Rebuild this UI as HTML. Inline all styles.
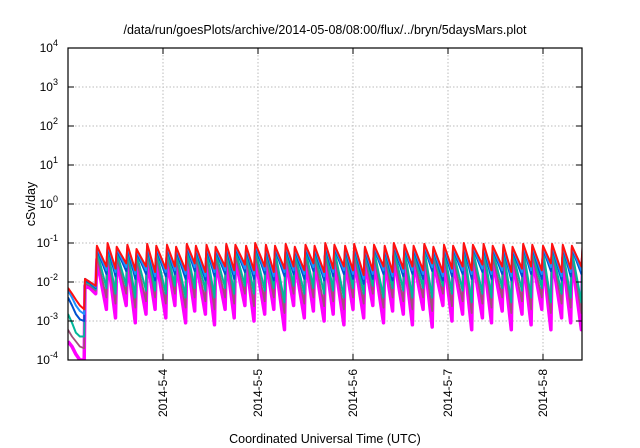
<!DOCTYPE html>
<html><head><meta charset="utf-8"><style>
body{margin:0;background:#fff;}
svg{display:block;font-family:"Liberation Sans",sans-serif;}
</style></head><body>
<svg id="chart" width="640" height="448" viewBox="0 0 640 448" xmlns="http://www.w3.org/2000/svg">
<text x="325" y="34" font-size="12.5" text-anchor="middle">/data/run/goesPlots/archive/2014-05-08/08:00/flux/../bryn/5daysMars.plot</text>
<text transform="translate(35,204) rotate(-90)" font-size="12.5" text-anchor="middle">cSv/day</text>
<text x="325" y="443" font-size="12.5" text-anchor="middle">Coordinated Universal Time (UTC)</text>
<g id="grid"></g>
<g id="series"></g>
<g id="axes"></g>
</svg>
<script>
const yDecades = [-4,-3,-2,-1,0,1,2,3,4];
const xTickDays = [4,5,6,7,8];
const xTickLabels = ["2014-5-4","2014-5-5","2014-5-6","2014-5-7","2014-5-8"];
const seriesNames = ["magenta","purple","teal","blue","dodger","red"];
const seriesColors = ["#ff00ff","#a0507a","#00b89a","#0050d0","#1e90ff","#ff1010"];
const seriesWidths = [3.5,1.8,2,2,2,2];
const peakScale = [0.45,0.55,0.75,0.85,0.92,1.0];
const preHours = [0,1,2,3,4.1,4.3,5.5,7.0];
const preValues = [
 [0.0003,0.00022,0.00014,0.0001,0.0001,0.008,0.007,0.005],
 [0.0006,0.0004,0.0003,0.00022,0.0002,0.009,0.008,0.006],
 [0.0015,0.0009,0.0005,0.0004,0.0004,0.010,0.009,0.0065],
 [0.004,0.0025,0.0015,0.0011,0.001,0.011,0.0095,0.007],
 [0.006,0.004,0.0025,0.0018,0.0015,0.012,0.010,0.0075],
 [0.007,0.005,0.0035,0.0025,0.002,0.012,0.010,0.008]
];
const peakHours = [7.3,10.0,12.3,15.0,17.3,20.0,22.3,25.0,27.3,30.0,32.3,35.0,37.3,40.0,42.3,45.0,47.3,50.0,52.3,55.0,57.3,60.0,62.3,65.0,67.3,70.0,72.3,75.0,77.3,80.0,82.3,85.0,87.3,90.0,92.3,95.0,97.3,100.0,102.3,105.0,107.3,110.0,112.3,115.0,117.3,120.0,122.3,125.0,127.3,130.0];
const peakValues = [0.085,0.1,0.08,0.09,0.07,0.095,0.085,0.09,0.08,0.095,0.085,0.09,0.08,0.095,0.09,0.085,0.1,0.09,0.085,0.095,0.08,0.09,0.085,0.1,0.09,0.085,0.095,0.08,0.09,0.085,0.1,0.09,0.085,0.095,0.08,0.09,0.085,0.1,0.09,0.095,0.085,0.09,0.08,0.095,0.09,0.085,0.095,0.09,0.085,0.09];
const troughRed = [0.025,0.022,0.03,0.02,0.025,0.018,0.022,0.025,0.02,0.03,0.018,0.022,0.025,0.02,0.028,0.02,0.025,0.018,0.022,0.025,0.02,0.03,0.018,0.022,0.025,0.02,0.015,0.02,0.025,0.018,0.022,0.025,0.02,0.03,0.018,0.022,0.025,0.02,0.028,0.02,0.025,0.018,0.022,0.025,0.02,0.03,0.018,0.022,0.025,0.02];
const troughDodger = [0.02,0.018,0.024,0.016,0.02,0.014,0.018,0.02,0.016,0.024,0.014,0.018,0.02,0.016,0.022,0.016,0.02,0.014,0.018,0.02,0.016,0.024,0.014,0.018,0.02,0.016,0.012,0.016,0.02,0.014,0.018,0.02,0.016,0.024,0.014,0.018,0.02,0.016,0.022,0.016,0.02,0.014,0.018,0.02,0.016,0.024,0.014,0.018,0.02,0.016];
const troughBlue = [0.016,0.014,0.019,0.012,0.016,0.011,0.014,0.016,0.012,0.019,0.011,0.014,0.016,0.012,0.018,0.012,0.016,0.011,0.014,0.016,0.012,0.019,0.011,0.014,0.016,0.012,0.009,0.012,0.016,0.011,0.014,0.016,0.012,0.019,0.011,0.014,0.016,0.012,0.018,0.012,0.016,0.011,0.014,0.016,0.012,0.019,0.011,0.014,0.016,0.012];
const troughTeal = [0.007,0.005,0.008,0.004,0.006,0.006,0.005,0.008,0.004,0.007,0.006,0.004,0.007,0.005,0.008,0.005,0.006,0.007,0.003,0.008,0.005,0.007,0.005,0.006,0.004,0.007,0.005,0.008,0.004,0.007,0.006,0.004,0.007,0.004,0.008,0.005,0.006,0.003,0.005,0.004,0.007,0.003,0.006,0.004,0.007,0.003,0.005,0.004,0.003,0.003];
const troughPurple = [0.004,0.0028,0.005,0.0022,0.0032,0.004,0.0028,0.005,0.0022,0.004,0.0032,0.002,0.004,0.0028,0.005,0.0024,0.0032,0.004,0.0016,0.005,0.0028,0.004,0.0024,0.0032,0.002,0.004,0.0028,0.005,0.0022,0.004,0.0032,0.002,0.004,0.0018,0.005,0.0024,0.0032,0.0016,0.0028,0.0022,0.004,0.0016,0.0032,0.002,0.004,0.0016,0.0028,0.0022,0.0016,0.0014];
const troughMagenta = [0.002,0.0012,0.0025,0.0009,0.0015,0.002,0.0012,0.0025,0.0009,0.0018,0.0015,0.0008,0.002,0.0012,0.0025,0.001,0.0015,0.002,0.0006,0.0025,0.0012,0.0018,0.001,0.0015,0.0008,0.002,0.0012,0.0025,0.0009,0.0018,0.0015,0.0008,0.002,0.0007,0.0025,0.001,0.0015,0.0006,0.0012,0.0009,0.0018,0.0006,0.0015,0.0008,0.002,0.0006,0.0012,0.0009,0.0006,0.0005];
const troughs = [troughMagenta,troughPurple,troughTeal,troughBlue,troughDodger,troughRed];

const NS="http://www.w3.org/2000/svg";
const L=68,R=582,T=48,B=360;
const hMin=0, hMax=(R-L)*24/95;
function xs(h){return L+(h-hMin)/(hMax-hMin)*(R-L);}
function ys(v){return B-(Math.log10(v)+4)/8*(B-T);}
const grid=document.getElementById('grid'), axes=document.getElementById('axes'), sg=document.getElementById('series');
function mk(tag,attrs,parent){const e=document.createElementNS(NS,tag);for(const k in attrs)e.setAttribute(k,attrs[k]);parent.appendChild(e);return e;}

yDecades.forEach(d=>{
  const y=ys(Math.pow(10,d));
  if(d>-4&&d<4){const g=mk('line',{x1:L,x2:R,y1:y,y2:y,stroke:'#bbb','stroke-dasharray':'1.5,2','stroke-width':1},grid);
  
  }
  const t1=mk('line',{x1:L,x2:L+6,y1:y,y2:y,stroke:'#000'},axes);
  
  
  const t2=mk('line',{x1:R-6,x2:R,y1:y,y2:y,stroke:'#000'},axes);
  
  
  const tx=mk('text',{x:L-10,y:y+4,'font-size':12,'text-anchor':'end'},axes);
  
  
  tx.innerHTML='10<tspan dy="-6" font-size="9">'+d+'</tspan>';
});
xTickDays.forEach((d,i)=>{
  const x=xs((d-3)*24);
  const g=mk('line',{x1:x,x2:x,y1:T,y2:B,stroke:'#bbb','stroke-dasharray':'1.5,2','stroke-width':1},grid);
  
  
  const t1=mk('line',{x1:x,x2:x,y1:B-6,y2:B,stroke:'#000'},axes);
  
  
  const t2=mk('line',{x1:x,x2:x,y1:T,y2:T+6,stroke:'#000'},axes);
  
  
  const tx=mk('text',{transform:'translate('+(x+4)+','+(B+9)+') rotate(-90)','font-size':12,'text-anchor':'end'},axes);
  
  
  tx.textContent=xTickLabels[i];
});

const cp=mk('clipPath',{id:'clip'},mk('defs',{},document.getElementById('chart')));
mk('rect',{x:L,y:T,width:R-L,height:B-T},cp);
sg.setAttribute('clip-path','url(#clip)');

seriesNames.forEach((name,s)=>{
  const pts=[];
  preHours.forEach((h,j)=>pts.push([h,preValues[s][j]]));
  peakHours.forEach((h,i)=>{
    pts.push([h,peakValues[i]*peakScale[s]]);
    const next = i+1<peakHours.length ? peakHours[i+1]-0.3 : h+2.3;
    pts.push([next,troughs[s][i]]);
  });
  const d=pts.map((p,k)=>(k?'L':'M')+xs(p[0]).toFixed(1)+','+ys(p[1]).toFixed(1)).join('');
  const path=mk('path',{d:d,fill:'none',stroke:seriesColors[s],'stroke-width':seriesWidths[s],'stroke-linejoin':'round'},sg);
  
  
});
const fr=mk('rect',{x:L,y:T,width:R-L,height:B-T,fill:'none',stroke:'#000','stroke-width':1.2},axes);


</script>
</body></html>
